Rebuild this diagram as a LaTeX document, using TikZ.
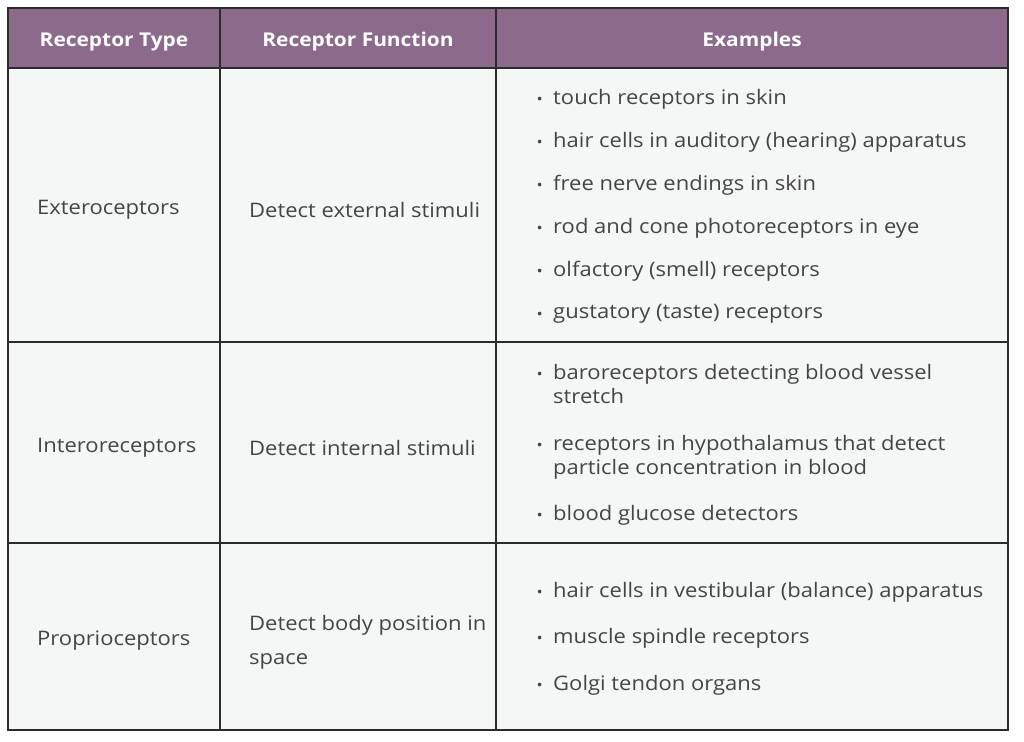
\documentclass[tikz,border=0pt]{standalone}
\usepackage{fontspec}
\setmainfont{Open Sans}[FakeStretch=1.1]
\usetikzlibrary{positioning}
\definecolor{headpurple}{HTML}{8C6A8B}
\definecolor{cellgray}{HTML}{F5F6F6}
\definecolor{textgray}{HTML}{454545}
\definecolor{rulegray}{HTML}{2B2B2B}
\begin{document}
\begin{tikzpicture}[
        x=1pt, y=-1pt,
        every node/.style={font=\fontsize{20}{24}\selectfont, text=textgray, inner sep=0pt},
        cell/.style={draw=rulegray, line width=2pt, fill=cellgray},
        headcell/.style={draw=rulegray, line width=2pt, fill=headpurple},
        headtext/.style={text=white, font=\fontsize{19}{23}\selectfont\bfseries},
        label/.style={anchor=west, align=left},
        item/.style={anchor=north west, align=left},
        dot/.style={anchor=east, font=\fontsize{15}{15}\selectfont}
    ]
        \useasboundingbox (0,0) rectangle (1024,741);
        % Header row
        \filldraw[headcell] (8,8) rectangle (220,68);
        \filldraw[headcell] (220,8) rectangle (496,68);
        \filldraw[headcell] (496,8) rectangle (1008,68);
        \node[headtext] (htype) at (114,42) {Receptor Type};
        \node[headtext] (hfunc) at (358,42) {Receptor Function};
        \node[headtext] (hex) at (752,42) {Examples};
        % Body cells
        \filldraw[cell] (8,68) rectangle (220,342);
        \filldraw[cell] (220,68) rectangle (496,342);
        \filldraw[cell] (496,68) rectangle (1008,342);
        \filldraw[cell] (8,342) rectangle (220,543);
        \filldraw[cell] (220,342) rectangle (496,543);
        \filldraw[cell] (496,342) rectangle (1008,543);
        \filldraw[cell] (8,543) rectangle (220,730);
        \filldraw[cell] (220,543) rectangle (496,730);
        \filldraw[cell] (496,543) rectangle (1008,730);
        % Exteroceptors
        \node[label] (ext) at (37,210) {Exteroceptors};
        \node[label] (extf) at (249,210) {Detect external stimuli};
        \node[item] (e1) at (553,89) {touch receptors in skin};
        \node[item] (e2) at (553,132) {hair cells in auditory (hearing) apparatus};
        \node[item] (e3) at (553,175) {free nerve endings in skin};
        \node[item] (e4) at (553,218) {rod and cone photoreceptors in eye};
        \node[item] (e5) at (553,261) {olfactory (smell) receptors};
        \node[item] (e6) at (553,304) {gustatory (taste) receptors};
        % Interoreceptors
        \node[label] (int) at (37,448) {Interoreceptors};
        \node[label] (intf) at (249,448) {Detect internal stimuli};
        \node[item] (i1) at (553,364) {baroreceptors detecting blood vessel\\stretch};
        \node[item] (i2) at (553,435) {receptors in hypothalamus that detect\\particle concentration in blood};
        \node[item] (i3) at (553,505) {blood glucose detectors};
        % Proprioceptors
        \node[label] (pro) at (37,641) {Proprioceptors};
        \node[label, font=\fontsize{20}{34}\selectfont] (prof) at (249,642) {Detect body position in\\space};
        \node[item] (p1) at (553,582) {hair cells in vestibular (balance) apparatus};
        \node[item] (p2) at (553,628) {muscle spindle receptors};
        \node[item] (p3) at (553,675) {Golgi tendon organs};
        % Bullets
        \foreach \n in {e1,e2,e3,e4,e5,e6,i1,i2,i3,p1,p2,p3}
            \node[dot] at ([xshift=-10pt,yshift=-12pt]\n.north west) {•};
\end{tikzpicture}
\end{document}
